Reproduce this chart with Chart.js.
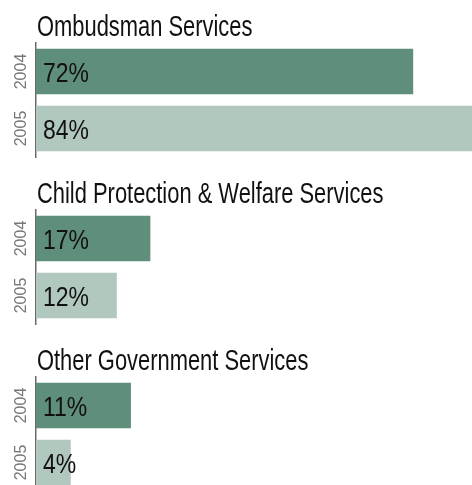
<!DOCTYPE html>
<html>
<head>
<meta charset="utf-8">
<script src="https://cdn.jsdelivr.net/npm/chart.js@4"></script>
<style>
  html, body { margin: 0; padding: 0; background: #fff; overflow: hidden; }
  #wrap { position: relative; width: 472px; height: 485px; overflow: hidden; }
  .group { position: absolute; left: 0; width: 472px; height: 167px; }
  .title { position: absolute; left: 37px; top: 10.5px; font-family: "Liberation Sans", Arial, sans-serif;
           font-size: 30px; line-height: 30px; color: #111; white-space: nowrap;
           transform: scaleX(0.73); transform-origin: left top; }
  canvas { position: absolute; left: 0; top: 0; }
</style>
</head>
<body>
<div id="wrap"></div>
<script>
// ---- data ----
const groupTitles = ['Ombudsman Services', 'Child Protection & Welfare Services', 'Other Government Services'];
const years = ['2004', '2005'];
const values2004 = [72, 17, 11];
const values2005 = [84, 12, 4];

// ---- style ----
const axisMax = [83.3, 65, 50.7];
const colors = ['#5f8e7b', '#b1c8bf'];

const pctLabels = {
  id: 'pctLabels',
  afterDatasetsDraw(chart) {
    const ctx = chart.ctx;
    const meta = chart.getDatasetMeta(0);
    const data = chart.data.datasets[0].data;
    ctx.save();
    ctx.font = '28px "Liberation Sans", Arial, sans-serif';
    ctx.fillStyle = '#111';
    ctx.textAlign = 'left';
    ctx.textBaseline = 'alphabetic';
    meta.data.forEach((bar, i) => {
      ctx.save();
      ctx.translate(chart.chartArea.left + 7, bar.y + 10.5);
      ctx.scale(0.82, 1);
      ctx.fillText(data[i] + '%', 0, 0);
      ctx.restore();
    });
    ctx.restore();
  }
};

const wrap = document.getElementById('wrap');
groupTitles.forEach((t, gi) => {
  const g = document.createElement('div');
  g.className = 'group';
  g.style.top = (167 * gi) + 'px';
  const c = document.createElement('canvas');
  c.width = 472; c.height = 167;
  g.appendChild(c);
  const title = document.createElement('div');
  title.className = 'title';
  title.textContent = t;
  g.appendChild(title);
  wrap.appendChild(g);

  new Chart(c, {
    type: 'bar',
    data: {
      labels: years,
      datasets: [{
        data: [values2004[gi], values2005[gi]],
        backgroundColor: colors,
        borderWidth: 0,
        barThickness: 45
      }]
    },
    options: {
      indexAxis: 'y',
      responsive: false,
      animation: false,
      devicePixelRatio: 1,
      layout: { padding: { top: 43, bottom: 10, left: 0, right: 0 } },
      plugins: { legend: { display: false }, tooltip: { enabled: false }, title: { display: false } },
      scales: {
        x: { display: false, min: 0, max: axisMax[gi] },
        y: {
          grid: { display: false, drawTicks: false },
          border: { display: true, color: '#6a6a6a', width: 1.5 },
          ticks: {
            minRotation: 90, maxRotation: 90,
            crossAlign: 'center', padding: -3,
            color: '#777',
            font: { family: '"Liberation Sans", Arial, sans-serif', size: 16 }
          },
          afterFit(scale) { scale.width = 36; }
        }
      }
    },
    plugins: [pctLabels]
  });
});
</script>
</body>
</html>
